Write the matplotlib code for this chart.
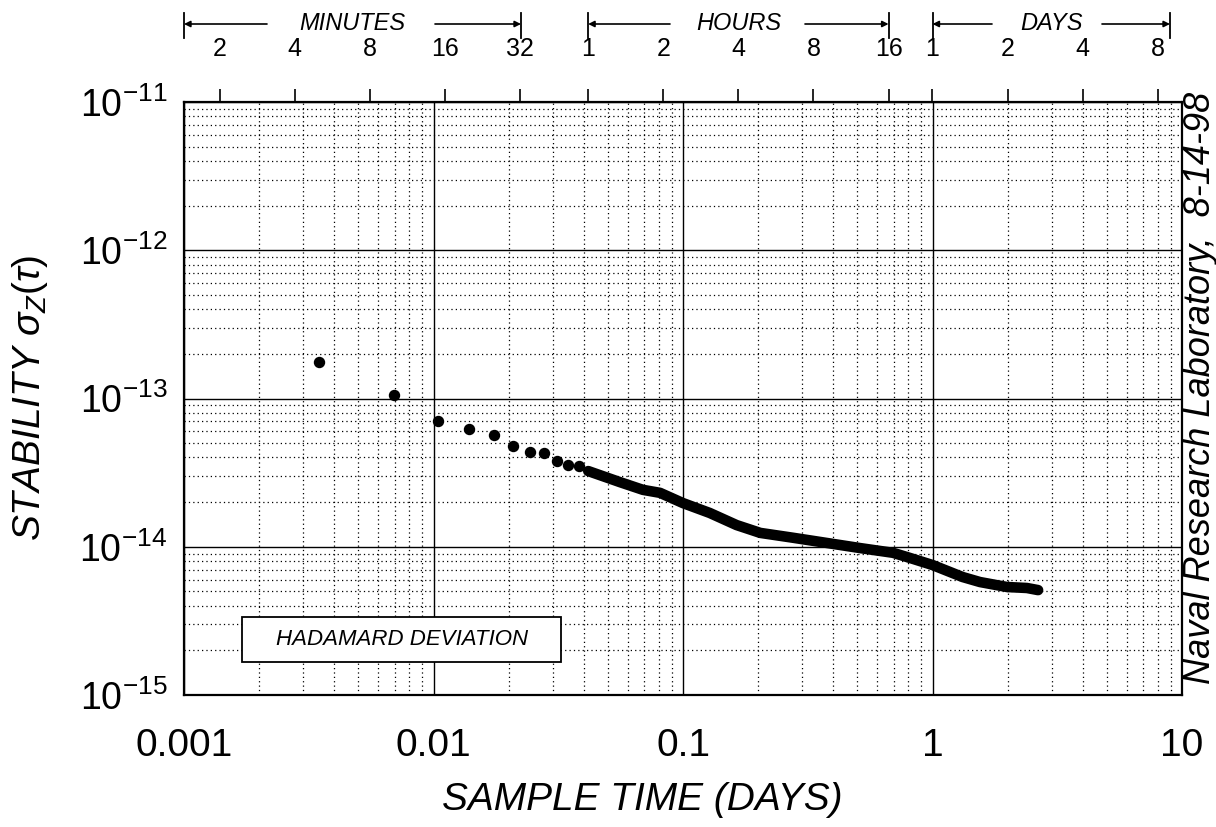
import matplotlib
matplotlib.use("Agg")
import matplotlib.pyplot as plt
from matplotlib.transforms import blended_transform_factory
from matplotlib.patches import Rectangle
from matplotlib.ticker import FixedLocator, FixedFormatter, NullFormatter, NullLocator, LogLocator

plt.rcParams['font.family'] = ['Liberation Sans', 'DejaVu Sans']
plt.rcParams['mathtext.fontset'] = 'custom'
plt.rcParams['mathtext.rm'] = 'Liberation Sans'
plt.rcParams['mathtext.it'] = 'Liberation Sans:italic'
plt.rcParams['mathtext.sf'] = 'Liberation Sans'

# ---- data (tau in days, Hadamard deviation) ----
sparse_tau = [0.00347, 0.00694, 0.0104, 0.0139, 0.0174, 0.0208, 0.0243, 0.0278, 0.0313, 0.0347, 0.0382]
sparse_sigma = [1.77e-13, 1.06e-13, 7.1e-14, 6.2e-14, 5.65e-14, 4.76e-14, 4.36e-14, 4.27e-14, 3.79e-14, 3.56e-14, 3.5e-14]

dense_tau = [0.0417, 0.0558, 0.0691, 0.0809, 0.100, 0.128, 0.164, 0.204, 0.276, 0.378,
             0.512, 0.695, 0.813, 1.0, 1.32, 1.55, 1.99, 2.39, 2.65]
dense_sigma = [3.24e-14, 2.73e-14, 2.42e-14, 2.31e-14, 1.97e-14, 1.69e-14, 1.40e-14, 1.24e-14, 1.15e-14, 1.06e-14,
               9.8e-15, 9.1e-15, 8.4e-15, 7.53e-15, 6.25e-15, 5.78e-15, 5.35e-15, 5.27e-15, 5.1e-15]

x_ticks = [0.001, 0.01, 0.1, 1, 10]
x_labels = ['0.001', '0.01', '0.1', '1', '10']
y_ticks = [1e-15, 1e-14, 1e-13, 1e-12, 1e-11]
y_labels = [r'$10^{-15}$', r'$10^{-14}$', r'$10^{-13}$', r'$10^{-12}$', r'$10^{-11}$']

minutes = [2, 4, 8, 16, 32]
hours = [1, 2, 4, 8, 16]
days = [1, 2, 4, 8]

W, H = 1216, 827
fig = plt.figure(figsize=(W / 100, H / 100), dpi=100)
L, R, T, B = 184, 1182, 102, 695
ax = fig.add_axes([L / W, 1 - B / H, (R - L) / W, (B - T) / H])
ax.set_xscale('log')
ax.set_yscale('log')
ax.set_xlim(0.001, 10)
ax.set_ylim(1e-15, 1e-11)

ax.xaxis.set_major_locator(FixedLocator(x_ticks))
ax.xaxis.set_major_formatter(FixedFormatter(x_labels))
ax.yaxis.set_major_locator(FixedLocator(y_ticks))
ax.yaxis.set_major_formatter(FixedFormatter(y_labels))
ax.xaxis.set_minor_locator(LogLocator(base=10, subs=range(2, 10), numticks=20))
ax.yaxis.set_minor_locator(LogLocator(base=10, subs=range(2, 10), numticks=20))
ax.xaxis.set_minor_formatter(NullFormatter())
ax.yaxis.set_minor_formatter(NullFormatter())
ax.tick_params(which='both', length=0)
ax.tick_params(axis='x', which='major', labelsize=28, pad=24)
ax.tick_params(axis='y', which='major', labelsize=27, pad=12)

ax.grid(which='major', color='black', lw=1.0, ls='-')
ax.grid(which='minor', color='black', lw=0.9, ls=(0, (1, 2.5)))
ax.set_axisbelow(True)
for s in ax.spines.values():
    s.set_linewidth(1.6)

# data
ax.plot(dense_tau, dense_sigma, color='black', lw=7.6, solid_capstyle='round', solid_joinstyle='round', zorder=3)
ax.plot(sparse_tau, sparse_sigma, 'o', color='black', ms=7.2, zorder=4)

# legend-like box
ax.add_patch(Rectangle((0.058, 0.0556), 0.32, 0.076, transform=ax.transAxes,
                       facecolor='white', edgecolor='black', lw=1.3, zorder=5))
ax.text(0.218, 0.0936, 'HADAMARD DEVIATION', transform=ax.transAxes, ha='center', va='center',
        fontsize=16, style='italic', zorder=6)

# top axis
ax2 = ax.twiny()
ax2.set_xscale('log')
ax2.set_xlim(ax.get_xlim())
top_pos = [m / 1440 for m in minutes] + [h / 24 for h in hours] + [float(d) for d in days]
top_lab = [str(m) for m in minutes] + [str(h) for h in hours] + [str(d) for d in days]
ax2.xaxis.set_major_locator(FixedLocator(top_pos))
ax2.xaxis.set_major_formatter(FixedFormatter(top_lab))
ax2.xaxis.set_minor_locator(NullLocator())
ax2.tick_params(axis='x', which='major', direction='out', length=9.5, width=1.2, labelsize=18, pad=20)
for s in ax2.spines.values():
    s.set_visible(False)

# brackets
trans = blended_transform_factory(ax.transData, fig.transFigure)
y_line = 1 - 24 / H
y_b0, y_b1 = 1 - 13 / H, 1 - 38 / H

def px2x(px):
    return 10 ** (-3 + (px - L) / ((R - L) / 4))

brackets = [
    ('MINUTES', px2x(184), px2x(521), px2x(267), px2x(435)),
    ('HOURS', 1 / 24, 16 / 24, px2x(670), px2x(805)),
    ('DAYS', 1.0, px2x(1170), px2x(992), px2x(1102)),
]
for name, x0, x1, g0, g1 in brackets:
    for xb in (x0, x1):
        ax.plot([xb, xb], [y_b0, y_b1], color='black', lw=1.3, transform=trans, clip_on=False)
    ax.annotate('', xy=(x0, y_line), xytext=(g0, y_line), xycoords=trans, textcoords=trans,
                arrowprops=dict(arrowstyle='-|>', color='black', lw=1.2, mutation_scale=9,
                                shrinkA=0, shrinkB=0))
    ax.annotate('', xy=(x1, y_line), xytext=(g1, y_line), xycoords=trans, textcoords=trans,
                arrowprops=dict(arrowstyle='-|>', color='black', lw=1.2, mutation_scale=9,
                                shrinkA=0, shrinkB=0))
    xc = (x0 * x1) ** 0.5
    ax.text(xc, y_line, name, transform=trans, ha='center', va='center', fontsize=17, style='italic')

# axis labels
fig.text(642 / W, 1 - 800 / H, 'SAMPLE TIME (DAYS)', ha='center', va='center', fontsize=28, style='italic')
fig.text(30 / W, 1 - 398 / H, r'STABILITY $\sigma_Z(\tau)$', ha='center', va='center', fontsize=28,
         style='italic', rotation=90)
fig.text(1200 / W, 1 - 388 / H, 'Naval Research Laboratory,  8-14-98', ha='center', va='center',
         fontsize=26, style='italic', rotation=90)

fig.savefig('out.png', dpi=100)
